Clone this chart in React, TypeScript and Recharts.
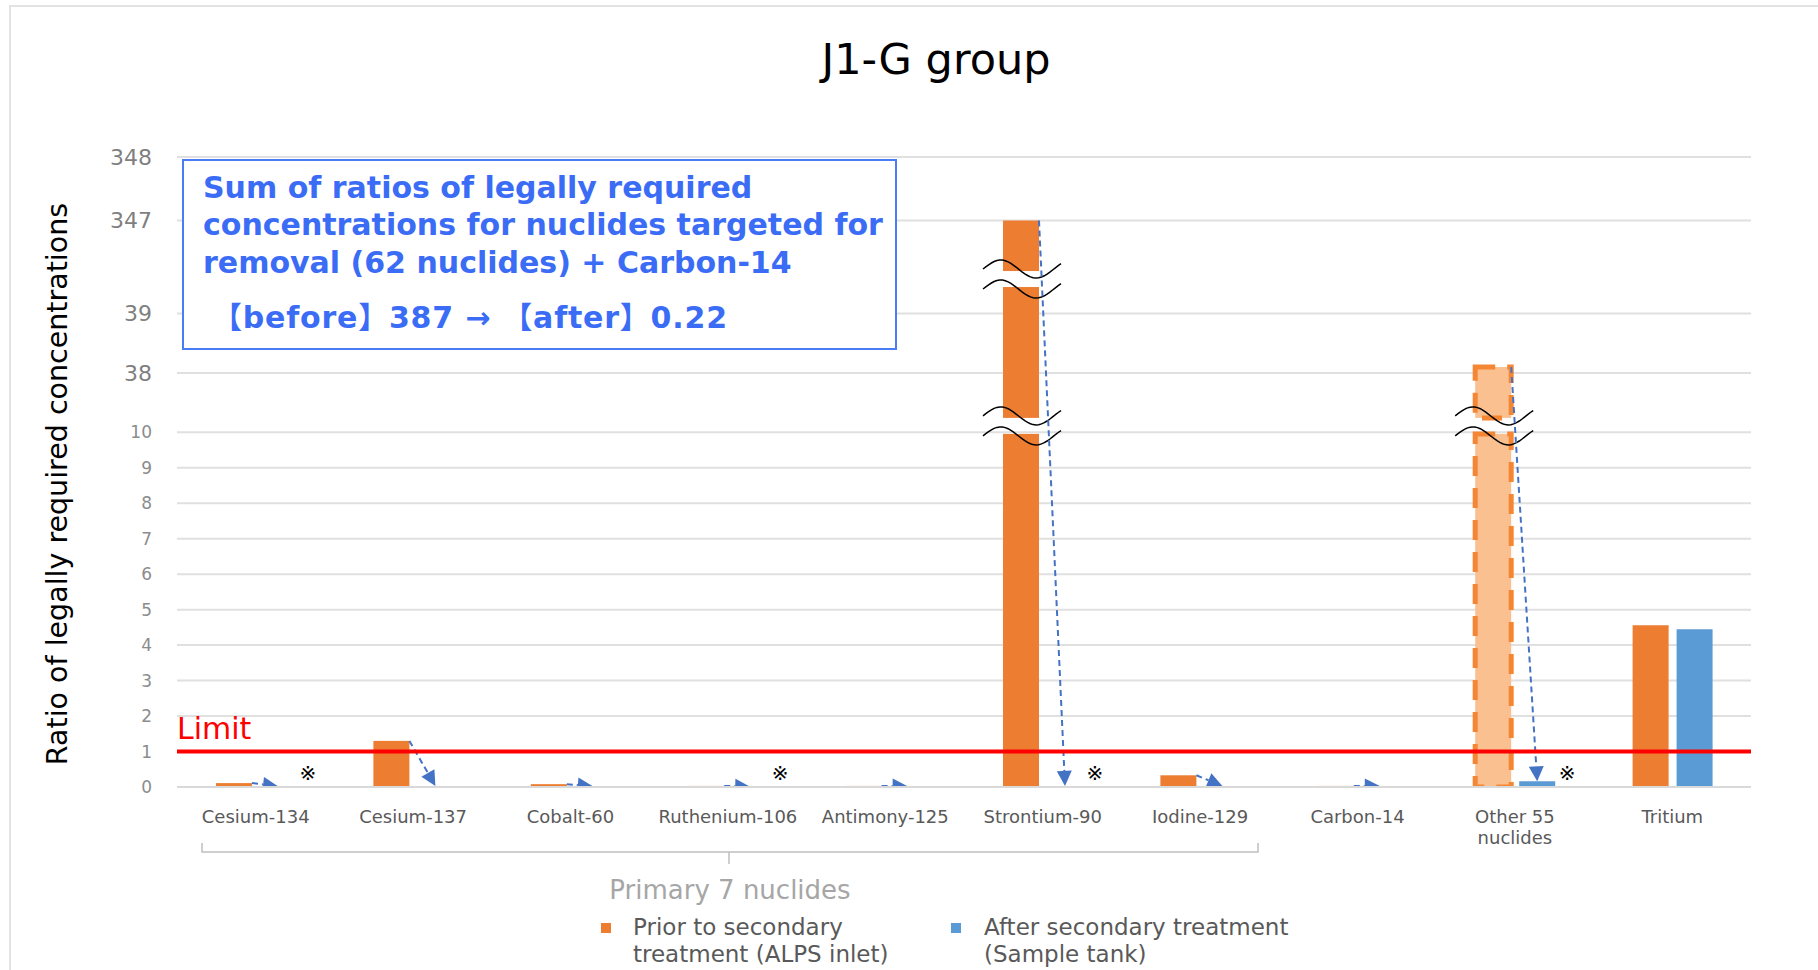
import React from 'react'
import { BarChart, Bar, XAxis, YAxis, CartesianGrid, ReferenceLine, LabelList } from 'recharts'

const NUCLIDES = [
  'Cesium-134', 'Cesium-137', 'Cobalt-60', 'Ruthenium-106', 'Antimony-125',
  'Strontium-90', 'Iodine-129', 'Carbon-14', 'Other 55\nnuclides', 'Tritium',
]
// ratio of legally required concentration, prior to secondary treatment (ALPS inlet)
const BEFORE = [0.11, 1.3, 0.08, 0.03, 0.03, 347, 0.33, 0.03, 38.1, 4.56]
// after secondary treatment (sample tank)
const AFTER = [0.02, 0.03, 0.02, 0.01, 0.02, 0.03, 0.03, 0.03, 0.16, 4.45]
const NOTE_MARK = [true, false, false, true, false, true, false, false, true, false]
const NO_ARROW = ['Tritium']
const DASHED_BAR = ['Other 55\nnuclides']
const Y_TICKS = [0, 1, 2, 3, 4, 5, 6, 7, 8, 9, 10, 38, 39, 347, 348]
const LIMIT = 1

// broken axis: real value -> position on the drawn axis
const BREAK_REAL = [0, 10, 38, 39, 347, 348]
const BREAK_POS = [0, 10, 11.67, 13.35, 15.97, 17.76]
const BREAK_MARKS = [10.18, 14.32]

const ORANGE = '#ED7D31'
const BLUE = '#5B9BD5'
const ARROW = '#4472C4'
const FONT = '"DejaVu Sans", "Noto Sans CJK JP", sans-serif'
const BAR_SIZE = 36
const BAR_GAP = 8

const toPos = (v: number) => {
  for (let i = 1; i < BREAK_REAL.length; i++) {
    if (v <= BREAK_REAL[i] || i === BREAK_REAL.length - 1) {
      const r0 = BREAK_REAL[i - 1], r1 = BREAK_REAL[i]
      const p0 = BREAK_POS[i - 1], p1 = BREAK_POS[i]
      return p0 + ((v - r0) / (r1 - r0)) * (p1 - p0)
    }
  }
  return v
}

const data = NUCLIDES.map((name, i) => ({
  name,
  before: toPos(BEFORE[i]),
  after: toPos(AFTER[i]),
  note: NOTE_MARK[i] ? '※' : '',
}))

const wavePath = (x0: number, x1: number, cy: number, amp: number) => {
  const pts: string[] = []
  const n = 28
  for (let k = 0; k <= n; k++) {
    const t = k / n
    const px = x0 + (x1 - x0) * t
    const py = cy - amp * Math.sin(2 * Math.PI * 1.1 * t)
    pts.push(`${px.toFixed(1)},${py.toFixed(1)}`)
  }
  return 'M' + pts.join(' L')
}

const BeforeShape = (props: any) => {
  const { x, y, width, height, payload } = props
  if (!height || height <= 0) return <g />
  const zeroY = y + height
  const unit = height / payload.before
  const dashed = DASHED_BAR.includes(payload.name)
  const cuts = BREAK_MARKS.filter((b) => b < payload.before - 0.3).map((b) => zeroY - b * unit)
  const GAP = 8
  const segs: [number, number][] = []
  let bottom = zeroY
  cuts.forEach((c) => {
    segs.push([c + GAP, bottom])
    bottom = c - GAP
  })
  segs.push([y, bottom])

  let arrow = null
  if (!NO_ARROW.includes(payload.name)) {
    const sx = x + width
    const sy = y
    const ex = x + width + BAR_GAP + width / 2
    const ey = zeroY - payload.after * unit
    const dx = ex - sx, dy = ey - sy
    const len = Math.hypot(dx, dy)
    const ux = dx / len, uy = dy / len
    const L = 15, W = 7.5
    const bx = ex - ux * L, by = ey - uy * L
    const nx = -uy, ny = ux
    arrow = (
      <g>
        <line x1={sx} y1={sy} x2={bx} y2={by} stroke={ARROW} strokeWidth={2} strokeDasharray="6 4" />
        <polygon
          points={`${ex},${ey} ${bx + nx * W},${by + ny * W} ${bx - nx * W},${by - ny * W}`}
          fill={ARROW}
        />
      </g>
    )
  }

  return (
    <g>
      {segs.map(([t, b], i) =>
        dashed ? (
          <rect key={i} x={x} y={t} width={width} height={Math.max(b - t, 0)} fill="#FAC090"
            stroke="#F58634" strokeWidth={5} strokeDasharray="20 12" />
        ) : (
          <rect key={i} x={x} y={t} width={width} height={Math.max(b - t, 0)} fill={ORANGE} />
        )
      )}
      {cuts.map((c, i) => (
        <g key={'w' + i} fill="none" stroke="#000" strokeWidth={1.5}>
          <path d={wavePath(x - 20, x + width + 22, c - 10, 9)} />
          <path d={wavePath(x - 20, x + width + 22, c + 10, 9)} />
        </g>
      ))}
      {arrow}
    </g>
  )
}

const NoteLabel = (props: any) => {
  const vb = props.viewBox ?? props
  const { x, y, width, height } = vb
  if (!props.value) return null
  return (
    <text x={x + width + 12} y={y + height - 14} textAnchor="middle" dominantBaseline="central"
      fontSize={20} fill="#000" fontFamily={FONT}>
      {props.value}
    </text>
  )
}

const YTick = ({ x, y, payload }: any) => {
  const real = Y_TICKS.find((t) => Math.abs(toPos(t) - payload.value) < 1e-6)
  const big = real !== undefined && real > 10
  return (
    <text x={x - 17} y={y} dy="0.36em" textAnchor="end" fontSize={big ? 22 : 17}
      fill={big ? '#7f7f7f' : '#8c8c8c'} fontFamily={FONT}>
      {real}
    </text>
  )
}

const XTick = ({ x, y, payload }: any) => {
  const lines = String(payload.value).split('\n')
  return (
    <text x={x} y={y} textAnchor="middle" fontSize={18} fill="#595959" fontFamily={FONT}>
      {lines.map((l, i) => (
        <tspan key={i} x={x} dy={i === 0 ? 28 : 21}>{l}</tspan>
      ))}
    </text>
  )
}

const LimitLabel = ({ viewBox }: any) => (
  <text x={viewBox.x} y={viewBox.y - 13} fontSize={30} fill="#FF0000" fontFamily={FONT}>Limit</text>
)

export default function App() {
  return (
    <div style={{ position: 'absolute', left: 0, top: 0, width: 1818, height: 970, background: '#fff', overflow: 'hidden' }}>
      <div style={{ position: 'absolute', left: 9, top: 5, width: 1830, height: 990, border: '2px solid #e2e2e2' }} />
      <div style={{ position: 'absolute', left: 0, top: 0 }}>
        <BarChart width={1818} height={970} data={data} barGap={BAR_GAP} barSize={BAR_SIZE}
          margin={{ top: 157, right: 67, left: 117, bottom: 123 }}>
          <CartesianGrid vertical={false} stroke="#e0e0e0" strokeWidth={2} />
          <XAxis dataKey="name" interval={0} tickLine={false} height={60}
            axisLine={{ stroke: '#d9d9d9', strokeWidth: 2 }} tick={<XTick />} />
          <YAxis type="number" domain={[0, BREAK_POS[BREAK_POS.length - 1]]} allowDataOverflow
            ticks={Y_TICKS.map(toPos)} interval={0} axisLine={false} tickLine={false} width={60} tick={<YTick />} />
          <Bar dataKey="before" fill={ORANGE} shape={BeforeShape} isAnimationActive={false} />
          <Bar dataKey="after" fill={BLUE} isAnimationActive={false}>
            <LabelList dataKey="note" content={NoteLabel} />
          </Bar>
          <ReferenceLine y={toPos(LIMIT)} stroke="#FF0000" strokeWidth={4} label={LimitLabel} />
        </BarChart>
      </div>
      <svg width={1818} height={970} style={{ position: 'absolute', left: 0, top: 0, pointerEvents: 'none' }}
        fontFamily={FONT}>
        <text x={936} y={74} textAnchor="middle" fontSize={43} fill="#000">J1-G group</text>
        <text transform="translate(67 484) rotate(-90)" textAnchor="middle" fontSize={28.5} fill="#000">
          Ratio of legally required concentrations
        </text>
        <rect x={183} y={160} width={713} height={189} fill="#fff" stroke="#4a7cf5" strokeWidth={2} />
        <g fontSize={30} fontWeight="bold" fill="#3b6cf5">
          <text x={203} y={198}>Sum of ratios of legally required</text>
          <text x={203} y={235}>concentrations for nuclides targeted for</text>
          <text x={203} y={273}>removal (62 nuclides) + Carbon-14</text>
          <text x={212} y={328} textLength={515} lengthAdjust="spacing">【before】387 → 【after】0.22</text>
        </g>
        <path d="M202 843 V852 H1258 V843 M729 852 V864" fill="none" stroke="#bfbfbf" strokeWidth={1.5} />
        <text x={730} y={899} textAnchor="middle" fontSize={26} fill="#a6a6a6">Primary 7 nuclides</text>
        <rect x={601} y={923} width={10} height={10} fill={ORANGE} />
        <text fontSize={23} fill="#595959">
          <tspan x={633} y={935}>Prior to secondary</tspan>
          <tspan x={633} y={962}>treatment (ALPS inlet)</tspan>
        </text>
        <rect x={951} y={923} width={10} height={10} fill={BLUE} />
        <text fontSize={23} fill="#595959">
          <tspan x={984} y={935}>After secondary treatment</tspan>
          <tspan x={984} y={962}>(Sample tank)</tspan>
        </text>
      </svg>
    </div>
  )
}
